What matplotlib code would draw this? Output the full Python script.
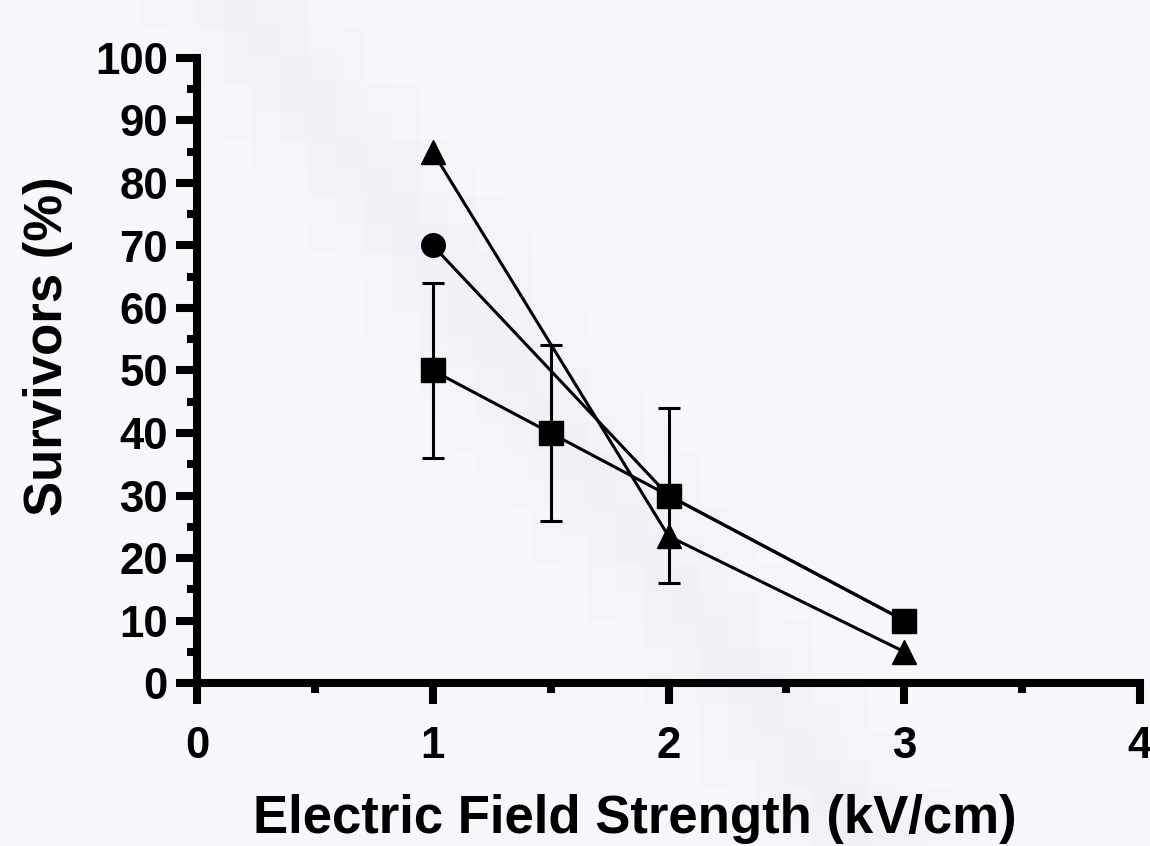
import numpy as np
import matplotlib.pyplot as plt
from matplotlib.colors import LinearSegmentedColormap

plt.rcParams['font.family'] = ['Liberation Sans', 'DejaVu Sans']
plt.rcParams['font.weight'] = 'bold'

# data
field = [1, 1.5, 2, 3]
squares = [50, 40, 30, 10]
squares_err = [14, 14, 14, 0]
circles_x = [1, 2, 3]
circles = [70, 30, 10]
triangles_x = [1, 2, 3]
triangles = [85, 23.5, 5]

bg = '#f8f7fc'
fig = plt.figure(figsize=(11.5, 8.46), dpi=100, facecolor=bg)

# faint blocky diagonal band in the background
bax = fig.add_axes([0, 0, 1, 1], zorder=-5)
rows, cols = 30, 41
yy, xx = np.mgrid[0:rows, 0:cols]
cx = (235 + (870 - 235) * (yy + 0.5) / rows) / 28.0
d = np.abs(xx + 0.5 - cx)
band = np.clip(1 - d / 4.0, 0, 1) ** 0.7
cmap = LinearSegmentedColormap.from_list('b', [bg, '#f0f1f6'])
bax.imshow(band, cmap=cmap, aspect='auto', interpolation='nearest',
           extent=[0, 1, 0, 1], vmin=0, vmax=1)
bax.axis('off')

ax = fig.add_axes([197 / 1150, 1 - 683 / 846, (1140 - 197) / 1150, (683 - 58) / 846])
ax.patch.set_alpha(0)

lw = 2.2
ms = 17
ax.plot(triangles_x, triangles, color='black', lw=lw, marker='^', ms=ms, zorder=3, clip_on=False)
ax.plot(circles_x, circles, color='black', lw=lw, marker='o', ms=ms, zorder=3, clip_on=False)
ax.errorbar(field, squares, yerr=squares_err, color='black', lw=lw, marker='s', ms=ms,
            elinewidth=lw, capsize=8, capthick=lw, zorder=4, clip_on=False)

ax.set_xlim(0, 4)
ax.set_ylim(0, 100)
ax.set_xticks([0, 1, 2, 3, 4])
ax.set_xticks([0.5, 1.5, 2.5, 3.5], minor=True)
ax.set_yticks(range(0, 101, 10))
ax.set_yticks(range(5, 100, 10), minor=True)

for s in ['top', 'right']:
    ax.spines[s].set_visible(False)
for s in ['left', 'bottom']:
    ax.spines[s].set_linewidth(5.8)

ax.tick_params(which='major', length=15, width=5.8, labelsize=31.5)
ax.tick_params(which='minor', length=7.5, width=5.8)
ax.tick_params(axis='x', which='major', pad=16)
ax.tick_params(axis='y', which='major', pad=6)

ax.set_xlabel('Electric Field Strength (kV/cm)', fontsize=38, fontweight='bold')
ax.set_ylabel('Survivors (%)', fontsize=38, fontweight='bold')
ax.xaxis.set_label_coords(0.464, -0.178)
ax.yaxis.set_label_coords(-0.131, 0.539)

fig.savefig('out.png', dpi=100, facecolor=bg)
